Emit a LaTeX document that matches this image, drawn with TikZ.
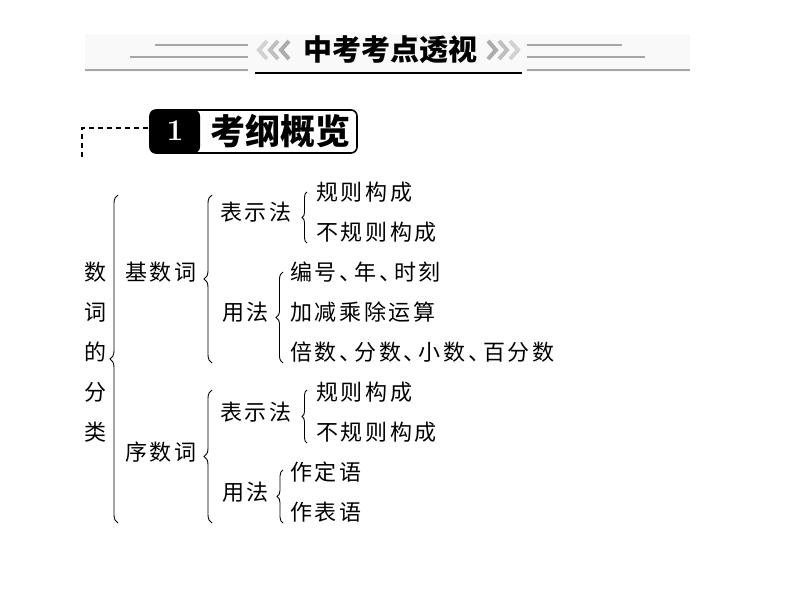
\documentclass[tikz,border=0pt]{standalone}
\usepackage{fontspec}
\newfontfamily\cjk[LetterSpace=12]{Noto Sans CJK SC}
\newfontfamily\cjkhead{Noto Sans CJK SC}
\newcommand\dun{、\kern-7pt}
\usetikzlibrary{decorations.pathreplacing}
\tikzset{
  word/.style={anchor=west, inner sep=0pt, font=\cjk\fontsize{22}{22}\selectfont},
  curly/.style={decorate, decoration={brace, amplitude=#1}, line width=0.9pt},
  curly/.default=6pt,
  rule/.style={gray!70, line width=1.1pt},
}
\begin{document}
\begin{tikzpicture}[x=1pt, y=-1pt]
  \useasboundingbox (0,0) rectangle (794,596);
  % header band
  \fill[gray!5] (85,34) rectangle (690,72);
  \draw[rule] (155,45) -- (248,45);
  \draw[rule] (130,57) -- (248,57);
  \draw[rule] (85,70) -- (248,70);
  \draw[rule] (527,45) -- (622,45);
  \draw[rule] (527,57) -- (645,57);
  \draw[rule] (527,70) -- (690,70);
  \draw[line width=2pt] (255,73) -- (522,73);
  \foreach \i/\c in {0/35, 1/50, 2/65} {
    \draw[gray!\c, line width=4pt] (267+11*\i,41) -- (259+11*\i,50) -- (267+11*\i,59);
    \draw[gray!\c, line width=4pt] (510-11*\i,41) -- (518-11*\i,50) -- (510-11*\i,59);
  }
  \node[inner sep=0pt, font=\cjkhead\bfseries\fontsize{29}{29}\selectfont] (head) at (390,50) {中考考点透视};
  % section tag
  \draw[line width=1.6pt, rounded corners=6pt] (150,110) rectangle (357,153);
  \fill[rounded corners=6pt] (150,110) -- (200,110) -- (200,153) -- (150,153) -- cycle;
  \node[text=white, font=\bfseries\fontsize{30}{30}\selectfont] (num) at (175,131) {1};
  \node[inner sep=0pt, font=\cjkhead\bfseries\fontsize{35}{35}\selectfont] (tag) at (280,131) {考纲概览};
  \draw[line width=2.5pt, dash pattern=on 5pt off 4pt] (148,128) -- (82,128) -- (82,160);
  % tree
  \node[inner sep=0pt, align=center, font=\cjk\fontsize{22}{40}\selectfont] (cls) at (95,352) {数\\词\\的\\分\\类};
  \node[word] (card) at (125,272) {基数词};
  \node[word] (ord) at (125,452) {序数词};
  \node[word] (cardform) at (220,212) {表示法};
  \node[word] (carduse) at (222,312) {用法};
  \node[word] (ordform) at (220,412) {表示法};
  \node[word] (orduse) at (222,492) {用法};
  \node[word] (c1) at (316,192) {规则构成};
  \node[word] (c2) at (316,232) {不规则构成};
  \node[word] (c3) at (290,272) {编号\dun 年\dun 时刻};
  \node[word] (c4) at (290,312) {加减乘除运算};
  \node[word] (c5) at (290,352) {倍数\dun 分数\dun 小数\dun 百分数};
  \node[word] (o1) at (316,392) {规则构成};
  \node[word] (o2) at (316,432) {不规则构成};
  \node[word] (o3) at (290,472) {作定语};
  \node[word] (o4) at (290,512) {作表语};
  \draw[curly=8pt] (118,523) -- (118,195);
  \draw[curly=8pt] (212,363) -- (212,195);
  \draw[curly=8pt] (212,523) -- (212,390);
  \draw[curly=5pt] (307,243) -- (307,192);
  \draw[curly=7pt] (283,363) -- (283,272);
  \draw[curly=5pt] (307,443) -- (307,390);
  \draw[curly=6pt] (283,523) -- (283,470);
\end{tikzpicture}
\end{document}
